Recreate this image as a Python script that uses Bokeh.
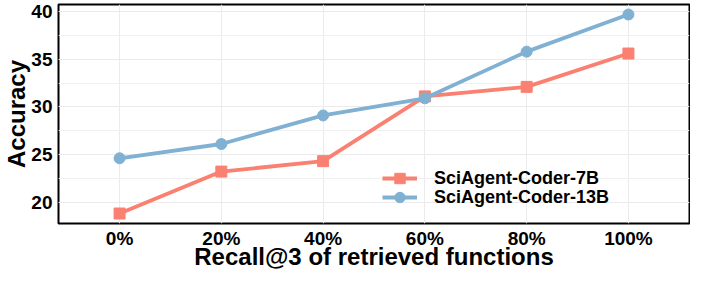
from bokeh.plotting import figure
from bokeh.models import FactorRange, Range1d, SingleIntervalTicker, Legend, LegendItem
from bokeh.embed import file_html
from bokeh.resources import INLINE

recall_labels = ["0%", "20%", "40%", "60%", "80%", "100%"]
coder_7b = [18.8, 23.2, 24.3, 31.1, 32.1, 35.6]
coder_13b = [24.6, 26.1, 29.1, 30.9, 35.8, 39.7]
series_names = ["SciAgent-Coder-7B", "SciAgent-Coder-13B"]

RED = "#FA8072"
BLUE = "#80B1D3"
FONT = "Liberation Sans"

p = figure(
    width=690, height=272,
    x_range=FactorRange(factors=recall_labels, range_padding=0.1, range_padding_units="absolute"),
    y_range=Range1d(17.75, 40.75),
    output_backend="svg", toolbar_location=None,
    min_border_left=51, min_border_right=1, min_border_top=4, min_border_bottom=10,
)

p.outline_line_color = "black"
p.outline_line_width = 2
p.background_fill_color = "white"
p.border_fill_color = "white"

# grids
p.xgrid.grid_line_color = "#EBEBEB"
p.xgrid.grid_line_width = 1
p.ygrid.grid_line_color = "#EBEBEB"
p.ygrid.grid_line_width = 1
p.ygrid.minor_grid_line_color = "#F0F0F0"
p.ygrid.minor_grid_line_width = 1

p.yaxis.ticker = SingleIntervalTicker(interval=5, num_minor_ticks=2)

for ax in (p.xaxis, p.yaxis):
    ax.axis_line_color = None
    ax.major_tick_line_color = None
    ax.minor_tick_line_color = None
    ax.major_tick_out = 0
    ax.major_tick_in = 0
    ax.minor_tick_out = 0
    ax.minor_tick_in = 0
    ax.major_label_text_font = FONT
    ax.major_label_text_font_style = "bold"
    ax.major_label_text_font_size = "19px"
    ax.major_label_text_color = "black"
    ax.axis_label_text_font = FONT
    ax.axis_label_text_font_style = "bold"
    ax.axis_label_text_font_size = "24px"
    ax.axis_label_text_color = "black"

p.xaxis.axis_label = "Recall@3 of retrieved functions"
p.yaxis.axis_label = "Accuracy"
p.xaxis.major_label_standoff = 4
p.xaxis.axis_label_standoff = -9
p.yaxis.major_label_standoff = 6
p.yaxis.axis_label_standoff = -2

l1 = p.line(recall_labels, coder_7b, line_color=RED, line_width=3.8)
m1 = p.scatter(recall_labels, coder_7b, marker="square", size=11, fill_color=RED, line_color=RED)
l2 = p.line(recall_labels, coder_13b, line_color=BLUE, line_width=3.8)
m2 = p.scatter(recall_labels, coder_13b, marker="circle", size=11, fill_color=BLUE, line_color=BLUE)

common = dict(
    border_line_color=None, background_fill_alpha=0,
    label_text_font=FONT, label_text_font_style="bold",
    label_text_font_size="18px", label_text_color="black",
    glyph_width=35, glyph_height=26, label_height=26,
    label_standoff=17, spacing=0, padding=0, margin=0,
)
leg1 = Legend(items=[LegendItem(label=series_names[0], renderers=[l1, m1])],
              location=(324, 32), **common)
leg2 = Legend(items=[LegendItem(label=series_names[1], renderers=[l2, m2])],
              location=(324, 13), **common)
p.add_layout(leg1, "center")
p.add_layout(leg2, "center")

open("out.html", "w").write(file_html(p, INLINE))
